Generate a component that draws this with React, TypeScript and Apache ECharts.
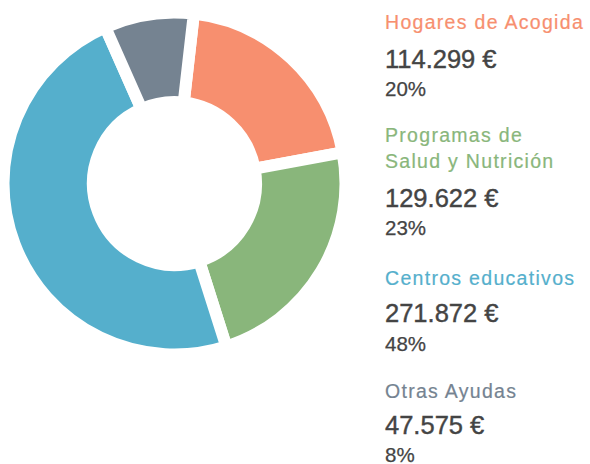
import React, { useEffect, useRef } from "react";
import * as echarts from "echarts";

// ---- data ----
const categories = ["Hogares de Acogida", "Programas de\nSalud y Nutrición", "Centros educativos", "Otras Ayudas"];
const values = [114299, 129622, 271872, 47575];
const currency = "€";

// ---- styles ----
const colors = ["#F78F6F", "#89B67B", "#55AFCC", "#758391"];
const textDark = "#444444";
const fontFamily = "Arial";

function fmt(v: number): string {
  return v.toString().replace(/\B(?=(\d{3})+(?!\d))/g, ".") + " " + currency;
}

export default function App() {
  const ref = useRef<HTMLDivElement>(null);
  useEffect(() => {
    document.body.style.margin = "0";
    if (!ref.current) return;
    const chart = echarts.init(ref.current, undefined, { renderer: "svg" });
    const total = values.reduce((a, b) => a + b, 0);

    const titleY = [22, 135, 278, 390.7];
    const valueY = [58.8, 198, 313.3, 425];
    const pctY = [88.5, 227, 343, 454];
    const titleLine = 26;
    const graphics: any[] = [];
    const titleTexts: string[] = [];
    categories.forEach((c, i) => {
      const lines = c.split("\n");
      lines.forEach((ln, k) => {
        titleTexts.push(ln);
        graphics.push({
          type: "text",
          x: 385,
          y: titleY[i] + k * titleLine,
          silent: true,
          style: {
            text: ln,
            fill: colors[i],
            stroke: colors[i],
            lineWidth: 0.2,
            fontSize: 19.5,
            fontFamily,
            align: "left",
            verticalAlign: "middle",
          },
        });
      });
      graphics.push({
        type: "text",
        x: 385,
        y: valueY[i],
        silent: true,
        style: {
          text: fmt(values[i]),
          fill: textDark,
          stroke: textDark,
          lineWidth: 0.4,
          fontSize: 25.5,
          fontFamily,
          align: "left",
          verticalAlign: "middle",
        },
      });
      graphics.push({
        type: "text",
        x: 385,
        y: pctY[i],
        silent: true,
        style: {
          text: Math.round((values[i] / total) * 100) + "%",
          fill: textDark,
          stroke: textDark,
          lineWidth: 0.25,
          fontSize: 20.5,
          fontFamily,
          align: "left",
          verticalAlign: "middle",
        },
      });
    });

    chart.setOption({
      animation: false,
      backgroundColor: "#ffffff",
      tooltip: { show: false },
      graphic: graphics,
      series: [
        {
          type: "pie",
          center: [174.5, 183.5],
          radius: [81.5, 171],
          startAngle: 83.5,
          clockwise: true,
          label: { show: false },
          labelLine: { show: false },
          emphasis: { disabled: true },
          itemStyle: { borderColor: "#ffffff", borderWidth: 12 },
          data: categories.map((c, i) => ({
            name: c.replace("\n", " "),
            value: values[i],
            itemStyle: { color: colors[i] },
          })),
        },
      ],
    });

    const applySpacing = () => {
      if (!ref.current) return;
      ref.current.querySelectorAll("text").forEach((t) => {
        if (titleTexts.indexOf((t.textContent || "").trim()) >= 0) {
          (t as SVGTextElement).style.letterSpacing = "1.3px";
        }
      });
    };
    applySpacing();
    const raf = requestAnimationFrame(applySpacing);
    const to = setTimeout(applySpacing, 50);

    return () => {
      cancelAnimationFrame(raf);
      clearTimeout(to);
      chart.dispose();
    };
  }, []);
  return <div ref={ref} style={{ width: 590, height: 464 }} />;
}
